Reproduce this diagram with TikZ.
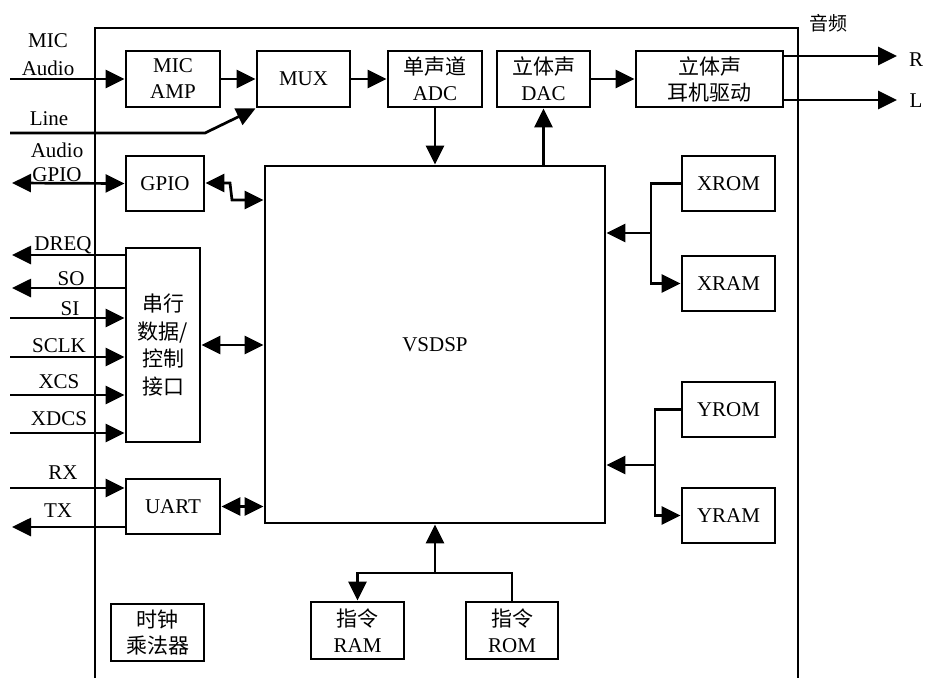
\documentclass[tikz,border=0pt]{standalone}
\usepackage{fontspec}
\setmainfont{Liberation Serif}
\newfontfamily\cjk{Noto Sans CJK SC}
\usetikzlibrary{arrows.meta}
\begin{document}
\begin{tikzpicture}[x=1pt,y=-1pt,
  every node/.style={font=\fontsize{21}{26}\selectfont},
  blk/.style={draw,line width=2.9pt,inner sep=0pt,align=center},
  lbl/.style={inner sep=0pt},
  ln/.style={line width=2.7pt},
  arr/.style={ln,-{Triangle[length=19pt,width=18pt]}},
  arrb/.style={ln,{Triangle[length=19pt,width=18pt]}-{Triangle[length=19pt,width=18pt]}}]
\useasboundingbox (0,0) rectangle (926,678);
\fill[white] (0,0) rectangle (926,678);
% outer frame
\coordinate (fbl) at (95,678);
\coordinate (ftl) at (95,28);
\coordinate (ftr) at (798,28);
\coordinate (fbr) at (798,678);
\draw[ln] (fbl) -- (ftl) -- (ftr) -- (fbr);
% blocks
\node[blk,minimum width=94pt,minimum height=56pt] (micamp) at (173,79) {MIC\\AMP};
\node[blk,minimum width=93pt,minimum height=56pt] (mux) at (303.5,79) {MUX};
\node[blk,minimum width=94pt,minimum height=56pt] (adc) at (435,79) {{\cjk 单声道}\\ADC};
\node[blk,minimum width=93pt,minimum height=56pt] (dac) at (543.5,79) {{\cjk 立体声}\\DAC};
\node[blk,minimum width=147pt,minimum height=56pt] (hp) at (709.5,79) {{\cjk 立体声}\\{\cjk 耳机驱动}};
\node[blk,minimum width=78pt,minimum height=55pt] (gpio) at (165,183.5) {GPIO};
\node[blk,minimum width=340pt,minimum height=357pt] (vsdsp) at (435,344.5) {VSDSP};
\node[blk,minimum width=74pt,minimum height=194pt,font=\fontsize{21}{27.5}\selectfont\cjk] (serial) at (163,345) {串行\\数据/\\控制\\接口};
\node[blk,minimum width=94pt,minimum height=55pt] (uart) at (173,506.5) {UART};
\node[blk,minimum width=93pt,minimum height=57pt,font=\fontsize{21}{26}\selectfont\cjk] (clock) at (157.5,632.5) {时钟\\乘法器};
\node[blk,minimum width=93pt,minimum height=57pt] (iram) at (357.5,630.5) {{\cjk 指令}\\RAM};
\node[blk,minimum width=92pt,minimum height=57pt] (irom) at (512,630.5) {{\cjk 指令}\\ROM};
\node[blk,minimum width=93pt,minimum height=55pt] (xrom) at (728.5,183.5) {XROM};
\node[blk,minimum width=93pt,minimum height=55pt] (xram) at (728.5,283.5) {XRAM};
\node[blk,minimum width=93pt,minimum height=55pt] (yrom) at (728.5,409.5) {YROM};
\node[blk,minimum width=93pt,minimum height=55pt] (yram) at (728.5,515.5) {YRAM};
% labels
\node[lbl,font=\fontsize{19}{22}\selectfont\cjk] (ypin) at (828,23) {音频};
\node[lbl] (tR) at (916,60) {R};
\node[lbl] (tL) at (916,101) {L};
\node[lbl] (tmic) at (48,41) {MIC};
\node[lbl] (taud1) at (48,68) {Audio};
\node[lbl] (tline) at (49,119) {Line};
\node[lbl] (taud2) at (57,150) {Audio};
\node[lbl] (tgpio) at (57,175) {GPIO};
\node[lbl] (tdreq) at (63,245) {DREQ};
\node[lbl] (tso) at (71,279) {SO};
\node[lbl] (tsi) at (70,309) {SI};
\node[lbl] (tsclk) at (59,346) {SCLK};
\node[lbl] (txcs) at (59,382) {XCS};
\node[lbl] (txdcs) at (59,419) {XDCS};
\node[lbl] (trx) at (63,473) {RX};
\node[lbl] (ttx) at (58,511) {TX};
% free ends
\coordinate (micin) at (10,79);
\coordinate (linein) at (10,133);
\coordinate (linebend) at (205,133);
\coordinate (Rend) at (897,56);
\coordinate (Lend) at (897,100);
\coordinate (gpioext) at (12,183);
\coordinate (gz1) at (230,183);
\coordinate (gz2) at (232,200);
\coordinate (dreq) at (12,255);
\coordinate (so) at (12,288);
\coordinate (si) at (10,318);
\coordinate (sclk) at (10,357);
\coordinate (xcs) at (10,395);
\coordinate (xdcs) at (10,433);
\coordinate (rx) at (10,488);
\coordinate (tx) at (12,527);
\coordinate (xb) at (651,233);
\coordinate (yb) at (655,465);
\coordinate (ib) at (435,573);
% connectors
\draw[arr] (micin) -- (micamp.west);
\draw[arr] (micamp.east) -- (mux.west);
\draw[arr] (linein) -- (linebend) -- (mux.south west);
\draw[arr] (mux.east) -- (adc.west);
\draw[arr] (dac.east) -- (hp.west);
\draw[arr] (hp.east |- Rend) -- (Rend);
\draw[arr] (hp.east |- Lend) -- (Lend);
\draw[arr] (adc.south) -- (adc.south |- vsdsp.north);
\draw[arr] (dac.south |- vsdsp.north) -- (dac.south);
\draw[arrb] (gpioext) -- (gpio.west);
\draw[arrb] (gpio.east |- gz1) -- (gz1) -- (gz2) -- (vsdsp.west |- gz2);
\draw[arr] (serial.west |- dreq) -- (dreq);
\draw[arr] (serial.west |- so) -- (so);
\draw[arr] (si) -- (serial.west |- si);
\draw[arr] (sclk) -- (serial.west |- sclk);
\draw[arr] (xcs) -- (serial.west |- xcs);
\draw[arr] (xdcs) -- (serial.west |- xdcs);
\draw[arrb] (serial.east) -- (vsdsp.west |- serial.east);
\draw[arr] (rx) -- (uart.west |- rx);
\draw[arr] (uart.west |- tx) -- (tx);
\draw[arrb] (uart.east) -- (vsdsp.west |- uart.east);
\draw[arr] (xrom.west) -| (xb) |- (xram.west);
\draw[arr] (xb) -- (vsdsp.east |- xb);
\draw[arr] (yrom.west) -| (yb) |- (yram.west);
\draw[arr] (yb) -- (vsdsp.east |- yb);
\draw[arr] (ib) -- (vsdsp.south);
\draw[arr] (irom.north) |- (ib) -| (iram.north);
\end{tikzpicture}
\end{document}
